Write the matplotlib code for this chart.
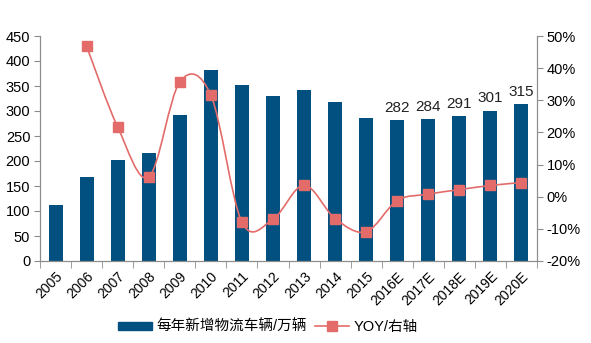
import numpy as np
import matplotlib
matplotlib.use('Agg')
import matplotlib.pyplot as plt
from matplotlib.path import Path
from matplotlib.patches import PathPatch
from matplotlib.lines import Line2D
from matplotlib.patches import Patch

plt.rcParams['font.family'] = ['Liberation Sans', 'Noto Sans CJK SC', 'DejaVu Sans']

# -------------------------------
# DATA
# -------------------------------
years = ['2005', '2006', '2007', '2008', '2009', '2010', '2011', '2012',
         '2013', '2014', '2015', '2016E', '2017E', '2018E', '2019E', '2020E']
vehicles = [113, 168, 202, 216, 292, 382, 352, 330,
            342, 318, 286, 282, 284, 291, 301, 315]
yoy = [np.nan, 46.8, 21.7, 6.1, 35.7, 31.6, -7.9, -7.0,
       3.6, -6.8, -10.9, -1.2, 0.8, 2.2, 3.5, 4.4]
labelled = ['2016E', '2017E', '2018E', '2019E', '2020E']

bar_color = '#02507F'
line_color = '#E36C6A'
axis_color = '#8C8C8C'

fig = plt.figure(figsize=(5.91, 3.43), dpi=100)
ax = fig.add_axes([40 / 591, 82 / 343, 497 / 591, 225 / 343])
ax2 = ax.twinx()

x = np.arange(len(years))
ax.bar(x, vehicles, width=0.45, color=bar_color, zorder=2)

for i, (yr, v) in enumerate(zip(years, vehicles)):
    if yr in labelled:
        ax.text(i, v + 10, str(v), ha='center', va='bottom', fontsize=11, color='#222222')

ax.set_xlim(-0.5, len(years) - 0.5)
ax.set_ylim(0, 450)
ax.set_yticks(range(0, 451, 50))
ax.set_xticks(x)
ax.set_xticklabels(years, rotation=45, ha='right', rotation_mode='anchor', fontsize=10)
ax.set_xticks(np.arange(-0.5, len(years), 1), minor=True)
ax.tick_params(axis='x', which='major', length=0, pad=6)
ax.tick_params(axis='x', which='minor', length=5, color=axis_color)
ax.tick_params(axis='y', length=4, color=axis_color, labelsize=10.5, pad=3)

# smoothed line (bezier through points, like spreadsheet smoothing)
px = x[1:].astype(float)
py = np.array(yoy[1:], dtype=float)
verts = [(px[0], py[0])]
codes = [Path.MOVETO]
n = len(px)
for i in range(n - 1):
    p0 = np.array([px[max(i - 1, 0)], py[max(i - 1, 0)]])
    p1 = np.array([px[i], py[i]])
    p2 = np.array([px[i + 1], py[i + 1]])
    p3 = np.array([px[min(i + 2, n - 1)], py[min(i + 2, n - 1)]])
    c1 = p1 + (p2 - p0) / 6
    c2 = p2 - (p3 - p1) / 6
    verts += [tuple(c1), tuple(c2), tuple(p2)]
    codes += [Path.CURVE4] * 3
ax2.add_patch(PathPatch(Path(verts, codes), fill=False, edgecolor=line_color, lw=1.2, zorder=3))
ax2.plot(px, py, linestyle='none', marker='s', markersize=7, color=line_color, zorder=4)

ax2.set_ylim(-20, 50)
ax2.set_yticks(range(-20, 51, 10))
ax2.set_yticklabels([f'{t}%' for t in range(-20, 51, 10)])
ax2.tick_params(axis='y', length=4, color=axis_color, labelsize=10.5, pad=3)

for a in (ax, ax2):
    a.spines['top'].set_visible(False)
    for s in ('left', 'right', 'bottom'):
        a.spines[s].set_color(axis_color)
        a.spines[s].set_linewidth(0.8)

handles = [Patch(color=bar_color),
           Line2D([], [], color=line_color, marker='s', markersize=7, lw=1.2)]
fig.legend(handles, ['每年新增物流车辆/万辆', 'YOY/右轴'], loc='center',
           bbox_to_anchor=(268 / 591, 1 - 327 / 343), ncol=2, frameon=False,
           fontsize=10.5, handlelength=2.3, handleheight=0.5, columnspacing=0.55,
           handletextpad=0.35, borderpad=0.2)

fig.savefig('out.png', dpi=100)
